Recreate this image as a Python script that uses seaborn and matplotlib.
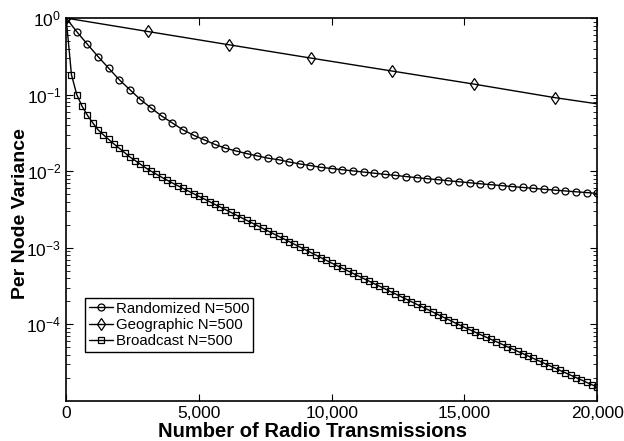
import numpy as np
import pandas as pd
import matplotlib
matplotlib.use("Agg")
import matplotlib.pyplot as plt
import matplotlib.ticker as mticker
import seaborn as sns

# values, kept as log10(per node variance)
rand_x = np.arange(0, 20001, 400)
rand_log = [0.0, -0.178, -0.342, -0.502, -0.654, -0.805, -0.935, -1.065, -1.175, -1.28,
            -1.37, -1.46, -1.53, -1.59, -1.65, -1.70, -1.736, -1.77, -1.80, -1.83,
            -1.85, -1.88, -1.905, -1.926, -1.95, -1.965, -1.981, -1.996, -2.011, -2.026,
            -2.041, -2.055, -2.070, -2.084, -2.098, -2.111, -2.125, -2.138, -2.151, -2.164,
            -2.176, -2.188, -2.201, -2.212, -2.224, -2.236, -2.247, -2.258, -2.269, -2.279,
            -2.290]

geo_x = [0, 3070, 6140, 9210, 12280, 15350, 18420, 20000]
geo_log = [0.0, -0.175, -0.349, -0.522, -0.692, -0.862, -1.040, -1.12]

bcast_x = np.arange(0, 20001, 200)
bcast_log = [0.0, -0.74, -1.00, -1.152, -1.269, -1.368, -1.459, -1.524, -1.584, -1.645,
             -1.70, -1.757, -1.814, -1.861, -1.909, -1.957, -2.00, -2.040, -2.079, -2.117,
             -2.154, -2.189, -2.224, -2.259, -2.294, -2.328, -2.363, -2.398, -2.433, -2.468,
             -2.502, -2.537, -2.572, -2.607, -2.642, -2.676, -2.711, -2.746, -2.781, -2.816,
             -2.850, -2.885, -2.920, -2.955, -2.990, -3.025, -3.060, -3.095, -3.130, -3.165,
             -3.200, -3.234, -3.267, -3.301, -3.334, -3.368, -3.402, -3.435, -3.469, -3.502,
             -3.536, -3.570, -3.603, -3.637, -3.670, -3.704, -3.738, -3.771, -3.805, -3.838,
             -3.872, -3.906, -3.939, -3.973, -4.006, -4.040, -4.071, -4.102, -4.134, -4.165,
             -4.196, -4.227, -4.258, -4.290, -4.321, -4.352, -4.383, -4.414, -4.446, -4.477,
             -4.508, -4.539, -4.570, -4.602, -4.633, -4.664, -4.695, -4.726, -4.758, -4.789,
             -4.820]

labels = ["Randomized N=500", "Geographic N=500", "Broadcast N=500"]

sns.set_style("ticks")
plt.rcParams["font.family"] = ["Liberation Sans", "DejaVu Sans"]
plt.rcParams["mathtext.fontset"] = "custom"
plt.rcParams["mathtext.rm"] = "Liberation Sans"
for key in ["text.color", "axes.labelcolor", "xtick.color", "ytick.color", "axes.edgecolor"]:
    plt.rcParams[key] = "black"

fig = plt.figure(figsize=(6.24, 4.41), dpi=100)
ax = fig.add_axes([0.106, 0.091, 0.851, 0.868])

series = [
    (rand_x, rand_log, labels[0], "o", 5.0, None),
    (geo_x, geo_log, labels[1], "d", 6.0, list(range(len(geo_x) - 1))),
    (bcast_x, bcast_log, labels[2], "s", 3.8, None),
]
for xs, logs, lab, mk, ms, every in series:
    df = pd.DataFrame({"x": xs, "v": 10.0 ** np.asarray(logs)})
    sns.lineplot(data=df, x="x", y="v", ax=ax, color="black", lw=1.0,
                 marker=mk, markersize=ms, markerfacecolor="none",
                 markeredgecolor="black", markeredgewidth=0.9,
                 markevery=every, label=lab, legend=False)

ax.set_yscale("log")
ax.set_xlim(0, 20000)
ax.set_ylim(1e-5, 1)
ax.set_yticks([1, 1e-1, 1e-2, 1e-3, 1e-4])
ax.yaxis.set_major_formatter(mticker.LogFormatterSciNotation())
ax.set_xticks([0, 5000, 10000, 15000, 20000])
ax.xaxis.set_major_formatter(mticker.FuncFormatter(lambda v, p: f"{int(v):,}"))
ax.yaxis.set_minor_locator(mticker.LogLocator(base=10, subs=np.arange(2, 10), numticks=20))
ax.yaxis.set_minor_formatter(mticker.NullFormatter())

ax.tick_params(which="both", direction="in", top=True, right=True, labelsize=12.5,
               colors="black")
ax.tick_params(which="major", length=5, width=0.8)
ax.tick_params(which="minor", length=3, width=0.6)
for s in ax.spines.values():
    s.set_linewidth(1.2)
    s.set_color("black")

ax.set_xlabel("Number of Radio Transmissions", fontsize=14.5, fontweight="bold")
ax.xaxis.set_label_coords(0.463, -0.095, transform=ax.transAxes)
ax.xaxis.label.set_va("baseline")
ax.set_ylabel("Per Node Variance", fontsize=14, fontweight="bold")
ax.yaxis.set_label_coords(-0.07, 0.49, transform=ax.transAxes)

leg = ax.legend(loc="lower left", bbox_to_anchor=(0.036, 0.128), borderaxespad=0,
                fontsize=10.8, frameon=True, fancybox=False, framealpha=1,
                edgecolor="black", handlelength=1.6, handletextpad=0.2,
                borderpad=0.25, labelspacing=0.15)
leg.get_frame().set_linewidth(1.0)
for t in leg.get_texts():
    t.set_color("black")

fig.savefig("out.png", dpi=100)
